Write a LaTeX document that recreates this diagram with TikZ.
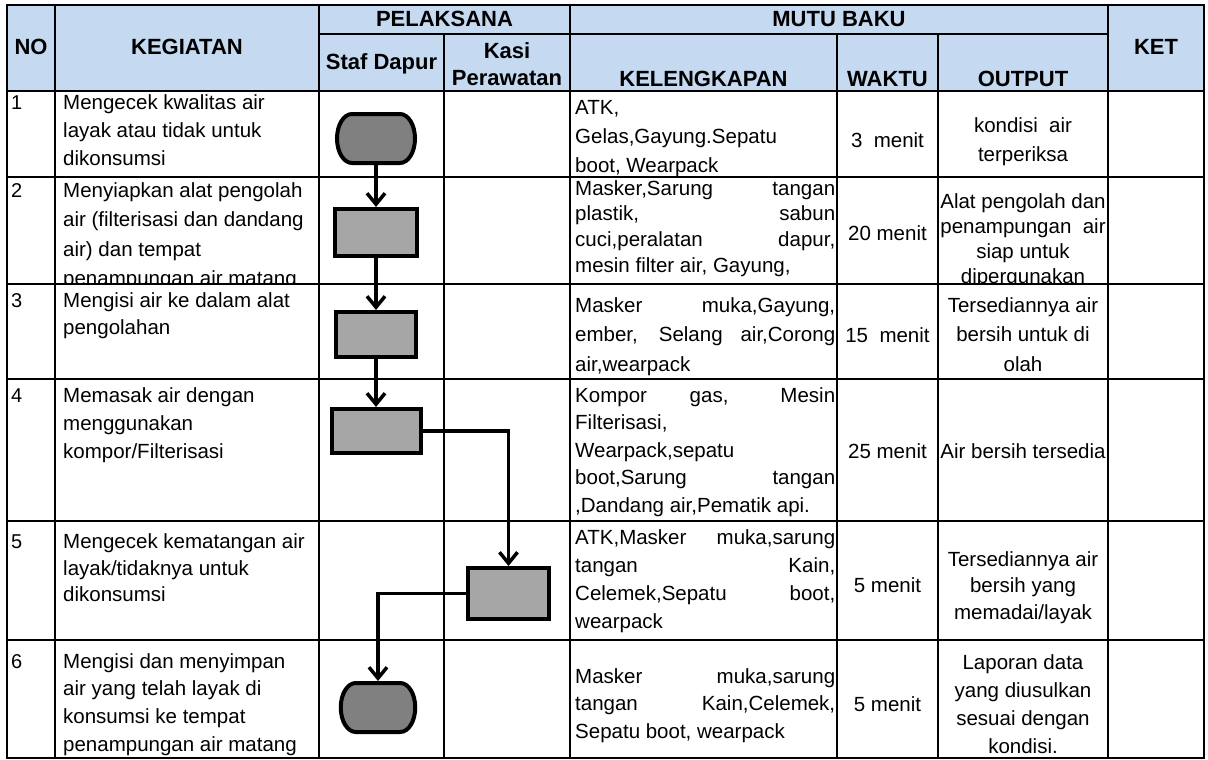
\documentclass[tikz,border=0pt]{standalone}
\usepackage{fontspec}
\setmainfont{Liberation Sans}
\usetikzlibrary{arrows.meta}
\definecolor{hdr}{HTML}{C5D9F1}
\definecolor{termfill}{HTML}{808080}
\definecolor{boxfill}{HTML}{A6A6A6}
\newcommand{\J}[1]{\makebox[260pt][s]{#1}}
\newcommand{\cellL}[3]{\parbox[t]{#2}{\fontsize{20.5}{#1}\selectfont\raggedright #3}}
\newcommand{\cellC}[3]{\parbox[t]{#2}{\fontsize{20.5}{#1}\selectfont\centering #3}}
\begin{document}
\begin{tikzpicture}[x=1pt,y=-1pt,
  grid/.style={line width=1.3pt, black},
  hd/.style={inner sep=0pt, anchor=base, font=\bfseries\fontsize{22}{25}\selectfont},
  tx/.style={inner sep=0pt, anchor=base west},
  tc/.style={inner sep=0pt, anchor=base, font=\fontsize{20.5}{25}\selectfont},
  num/.style={inner sep=0pt, anchor=base west, font=\fontsize{20}{22}\selectfont},
  proc/.style={draw, line width=4pt, fill=boxfill, inner sep=0pt},
  termbox/.style={draw=none, inner sep=0pt, outer sep=0pt},
  termline/.style={draw, line width=4pt, fill=termfill},
  arr/.style={line width=3.5pt, -{Straight Barb[length=11pt,width=18pt]}}
]
\useasboundingbox (0,0) rectangle (1208,760);
% header background
\fill[hdr] (7,5) rectangle (1204,91);
% grid
\draw[grid] (7,5) rectangle (1204,758);
\draw[grid] (319,34) -- (1108,34);
\foreach \y in {91,177,284,379,521,640} \draw[grid] (7,\y) -- (1204,\y);
\foreach \x in {55,319,570,1108} \draw[grid] (\x,5) -- (\x,758);
\foreach \x in {444,837,938} \draw[grid] (\x,34) -- (\x,758);
% header texts
\node[hd] (hno) at (31,55) {NO};
\node[hd] (hkeg) at (187,55) {KEGIATAN};
\node[hd] (hpel) at (444.5,27) {PELAKSANA};
\node[hd] (hmut) at (839,27) {MUTU BAKU};
\node[hd] (hstaf) at (381.5,70) {Staf Dapur};
\node[hd] (hkasi) at (507,59) {Kasi};
\node[hd] (hper) at (507,85) {Perawatan};
\node[hd] (hkel) at (703.5,87) {KELENGKAPAN};
\node[hd] (hwak) at (887.5,87) {WAKTU};
\node[hd] (hout) at (1023,87) {OUTPUT};
\node[hd] (hket) at (1156,55) {KET};
% row 1
\node[num] (n1) at (11,109.5) {1};
\node[tx] (k1) at (63,109.5) {\cellL{28pt}{256pt}{Mengecek kwalitas air\\layak atau tidak untuk\\dikonsumsi}};
\node[tx] (l1) at (575,114) {\cellL{29pt}{261pt}{ATK,\\Gelas,Gayung.Sepatu\\boot, Wearpack}};
\node[tc] (w1) at (887.5,147) {3\ \ menit};
\node[tc] (o1) at (1023,132) {\cellC{29.5pt}{168pt}{kondisi\ \ air\\terperiksa}};
% row 2
\node[num] (n2) at (11,197) {2};
\begin{scope}
\clip (55,177) rectangle (319,284);
\node[tx] (k2) at (63,197) {\cellL{29.5pt}{256pt}{Menyiapkan alat pengolah\\air (filterisasi dan dandang\\air) dan tempat\\penampungan air matang}};
\end{scope}
\node[tx] (l2) at (575,195) {\cellL{25.7pt}{261pt}{\J{Masker,Sarung tangan}\\\J{plastik, sabun}\\\J{cuci,peralatan dapur,}\\mesin filter air, Gayung,}};
\node[tc] (w2) at (887.5,240) {20 menit};
\begin{scope}
\clip (938,177) rectangle (1108,284);
\node[tc] (o2) at (1023,208) {\cellC{25pt}{168pt}{Alat pengolah dan\\penampungan\ \ air\\siap untuk\\dipergunakan}};
\end{scope}
% row 3
\node[num] (n3) at (11,307.5) {3};
\node[tx] (k3) at (63,307.5) {\cellL{27pt}{256pt}{Mengisi air ke dalam alat\\pengolahan}};
\node[tx] (l3) at (575,312) {\cellL{29.5pt}{261pt}{\J{Masker muka,Gayung,}\\\J{ember, Selang air,Corong}\\air,wearpack}};
\node[tc] (w3) at (887.5,342) {15\ \ menit};
\node[tc] (o3) at (1023,312) {\cellC{29.5pt}{168pt}{Tersediannya air\\bersih untuk di\\olah}};
% row 4
\node[num] (n4) at (11,402) {4};
\node[tx] (k4) at (63,402) {\cellL{28pt}{256pt}{Memasak air dengan\\menggunakan\\kompor/Filterisasi}};
\node[tx] (l4) at (575,402) {\cellL{27.5pt}{261pt}{\J{Kompor gas, Mesin}\\Filterisasi,\\Wearpack,sepatu\\\J{boot,Sarung tangan}\\,Dandang air,Pematik api.}};
\node[tc] (w4) at (887.5,458) {25 menit};
\node[tc] (o4) at (1023,458) {Air bersih tersedia};
% row 5
\node[num] (n5) at (11,548.5) {5};
\node[tx] (k5) at (63,548.5) {\cellL{26.5pt}{256pt}{Mengecek kematangan air\\layak/tidaknya untuk\\dikonsumsi}};
\node[tx] (l5) at (575,544) {\cellL{28pt}{261pt}{\J{ATK,Masker muka,sarung}\\\J{tangan Kain,}\\\J{Celemek,Sepatu boot,}\\wearpack}};
\node[tc] (w5) at (887.5,592) {5 menit};
\node[tc] (o5) at (1023,566) {\cellC{26.5pt}{168pt}{Tersediannya air\\bersih yang\\memadai/layak}};
% row 6
\node[num] (n6) at (11,668) {6};
\node[tx] (k6) at (63,668) {\cellL{27.8pt}{256pt}{Mengisi dan menyimpan\\air yang telah layak di\\konsumsi ke tempat\\penampungan air matang}};
\node[tx] (l6) at (575,683.5) {\cellL{27.3pt}{261pt}{\J{Masker muka,sarung}\\\J{tangan Kain,Celemek,}\\Sepatu boot, wearpack}};
\node[tc] (w6) at (887.5,711) {5 menit};
\node[tc] (o6) at (1023,669.5) {\cellC{28pt}{168pt}{Laporan data\\yang diusulkan\\sesuai dengan\\kondisi.}};
% flow shapes
\node[termbox, minimum width=78pt, minimum height=49pt] (t1) at (376,138.5) {};
\node[proc, minimum width=82pt, minimum height=47pt] (b2) at (376,232.5) {};
\node[proc, minimum width=80pt, minimum height=45pt] (b3) at (376,334.5) {};
\node[proc, minimum width=89pt, minimum height=44pt] (b4) at (376.5,431) {};
\node[proc, minimum width=81pt, minimum height=51pt] (b5) at (508.5,593.5) {};
\node[termbox, minimum width=74.5pt, minimum height=49pt] (t6) at (378,707.5) {};
\draw[termline] ([xshift=15pt]t1.north west) -- ([xshift=-15pt]t1.north east)
  arc[start angle=90,end angle=-90,x radius=15pt,y radius=24.5pt]
  -- ([xshift=15pt]t1.south west)
  arc[start angle=270,end angle=90,x radius=15pt,y radius=24.5pt] -- cycle;
\draw[termline] ([xshift=15pt]t6.north west) -- ([xshift=-15pt]t6.north east)
  arc[start angle=90,end angle=-90,x radius=15pt,y radius=24.5pt]
  -- ([xshift=15pt]t6.south west)
  arc[start angle=270,end angle=90,x radius=15pt,y radius=24.5pt] -- cycle;
% connectors
\draw[arr] (t1.south) -- (t1.south |- b2.north);
\draw[arr] (b2.south) -- (b3.north);
\draw[arr] (b3.south) -- (b3.south |- b4.north);
\draw[arr] (b4.east) -| (b5.north);
\draw[arr, shorten >=2pt] (b5.west) -| (t6.north);
\end{tikzpicture}
\end{document}
